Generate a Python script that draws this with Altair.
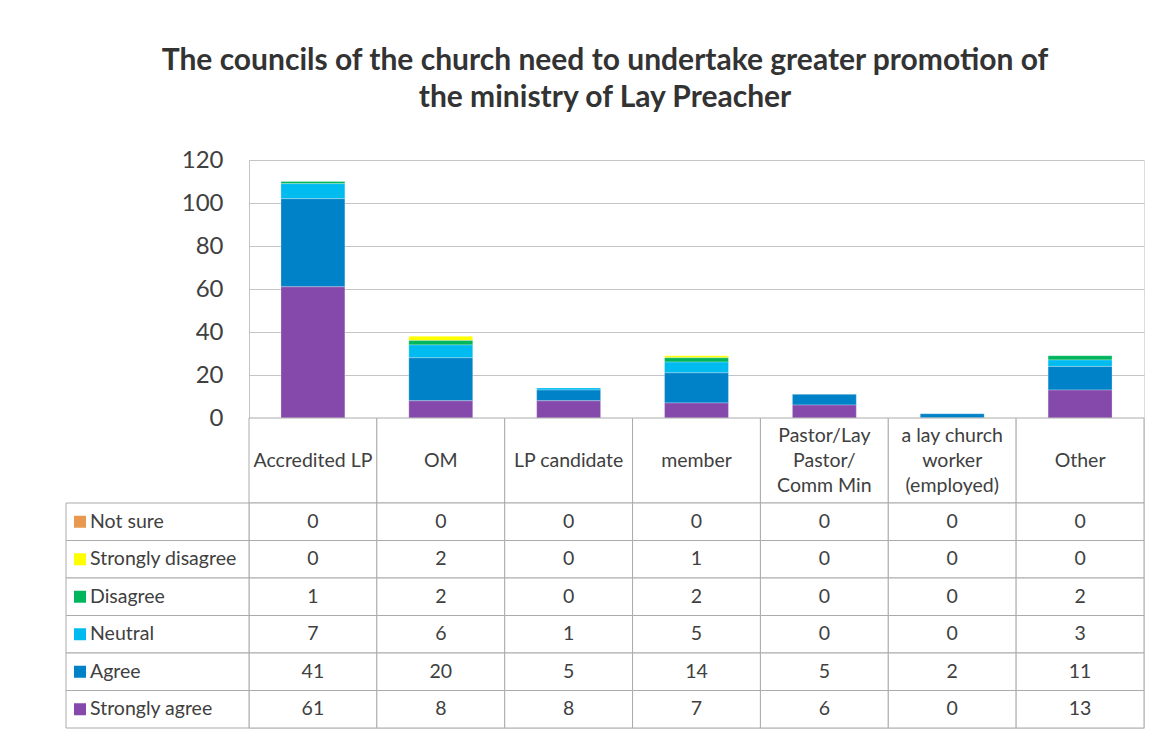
import altair as alt
import pandas as pd

categories = ["Accredited LP", "OM", "LP candidate", "member",
              "Pastor/Lay Pastor/Comm Min", "a lay church worker (employed)", "Other"]
category_lines = [["Accredited LP"], ["OM"], ["LP candidate"], ["member"],
                  ["Pastor/Lay", "Pastor/", "Comm Min"],
                  ["a lay church", "worker", "(employed)"], ["Other"]]
series = ["Not sure", "Strongly disagree", "Disagree", "Neutral", "Agree", "Strongly agree"]
colors = ["#E8994F", "#FFFF00", "#00B55C", "#00BBF0", "#0082C8", "#8549AB"]

not_sure = [0, 0, 0, 0, 0, 0, 0]
strongly_disagree = [0, 2, 0, 1, 0, 0, 0]
disagree = [1, 2, 0, 2, 0, 0, 2]
neutral = [7, 6, 1, 5, 0, 0, 3]
agree = [41, 20, 5, 14, 5, 2, 11]
strongly_agree = [61, 8, 8, 7, 6, 0, 13]

y_ticks = [0, 20, 40, 60, 80, 100, 120]

values_by_series = [not_sure, strongly_disagree, disagree, neutral, agree, strongly_agree]

rows = []
for si, (s, vals) in enumerate(zip(series, values_by_series)):
    for c, v in zip(categories, vals):
        rows.append({"category": c, "series": s, "value": v,
                     "stack_order": len(series) - 1 - si})
df = pd.DataFrame(rows)

head_rows = []
for c, lines in zip(categories, category_lines):
    n = len(lines)
    for li, t in enumerate(lines):
        head_rows.append({"category": c, "line": t, "line_pos": (n - 1) / 2 - li})
head_df = pd.DataFrame(head_rows)
cat_df = pd.DataFrame({"category": categories})
ser_df = pd.DataFrame({"series": series})

FONT = "Lato"
TXT = "#404040"
LINE = "#ABABAB"
GRID = "#C4C4C4"
FS = 19.5

color_scale = alt.Scale(domain=series, range=colors)

bars = alt.Chart(df).mark_bar(stroke="white", strokeOpacity=0.35, strokeWidth=0.8).encode(
    x=alt.X("category:N", sort=categories, axis=None,
            scale=alt.Scale(paddingInner=0.5, paddingOuter=0.25)),
    y=alt.Y("value:Q", stack="zero", scale=alt.Scale(domain=[0, 120]),
            axis=alt.Axis(values=y_ticks, title=None, ticks=False, labelPadding=26,
                          labelFontSize=24, labelColor=TXT, labelFont=FONT,
                          domainColor=GRID, gridColor=GRID)),
    color=alt.Color("series:N", scale=color_scale, legend=None),
    order=alt.Order("stack_order:Q", sort="ascending"),
).properties(width=895, height=258)

head_x = alt.X("category:N", sort=categories, axis=None,
               scale=alt.Scale(paddingInner=0, paddingOuter=0))
header = alt.layer(
    alt.Chart(cat_df).mark_bar(fill="white", stroke=LINE, strokeWidth=1).encode(x=head_x),
    alt.Chart(head_df).mark_text(fontSize=FS, baseline="middle", color=TXT, font=FONT).encode(
        x=head_x,
        y=alt.Y("line_pos:Q", axis=None, scale=alt.Scale(domain=[-1.7, 1.7])),
        text="line:N"),
).properties(width=895, height=85)

tab_x = alt.X("category:N", sort=categories, axis=None,
              scale=alt.Scale(paddingInner=0, paddingOuter=0))
tab_y = alt.Y("series:N", sort=series, axis=None,
              scale=alt.Scale(paddingInner=0, paddingOuter=0))
table = alt.layer(
    alt.Chart(df).mark_rect(fill="white", stroke=LINE, strokeWidth=1).encode(x=tab_x, y=tab_y),
    alt.Chart(df).mark_text(fontSize=FS, color=TXT, font=FONT, baseline="middle").encode(
        x=tab_x, y=tab_y, text="value:Q"),
    alt.Chart(ser_df).mark_rect(fill="white", stroke=LINE, strokeWidth=1).encode(
        x=alt.value(-183), x2=alt.value(0), y=tab_y),
    alt.Chart(ser_df).mark_square(size=144, opacity=1).encode(
        x=alt.value(-169), y=tab_y,
        color=alt.Color("series:N", scale=color_scale, legend=None)),
    alt.Chart(ser_df).mark_text(fontSize=FS, color=TXT, font=FONT, align="left",
                                baseline="middle").encode(
        x=alt.value(-159), y=tab_y, text="series:N"),
).properties(width=895, height=225)

chart = alt.vconcat(bars, header, table, spacing=0, bounds="flush").properties(
    title=alt.TitleParams(
        text=["The councils of the church need to undertake greater promotion of",
              "the ministry of Lay Preacher"],
        fontSize=30, font=FONT, fontWeight="bold", color="#333333",
        lineHeight=37, anchor="middle", offset=35),
    padding={"left": 57, "top": 37, "right": 10, "bottom": 0},
).configure_view(stroke="transparent").configure(font=FONT)

chart.save("out.html", embed_options={"renderer": "svg", "actions": False})
